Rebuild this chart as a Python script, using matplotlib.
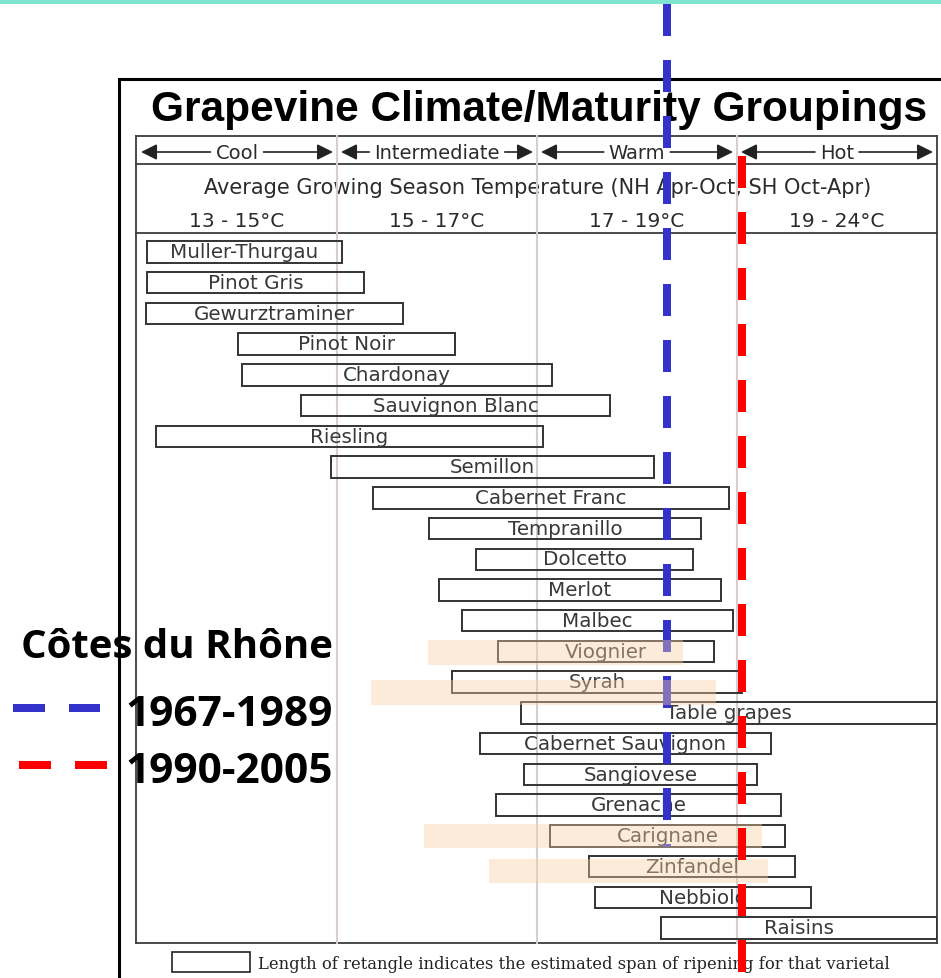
import numpy as np
import matplotlib
matplotlib.use("Agg")
import matplotlib.pyplot as plt
from matplotlib import transforms
from matplotlib.patches import Rectangle

# ---- data -------------------------------------------------------------
varieties = ["Muller-Thurgau", "Pinot Gris", "Gewurztraminer", "Pinot Noir",
             "Chardonay", "Sauvignon Blanc", "Riesling", "Semillon",
             "Cabernet Franc", "Tempranillo", "Dolcetto", "Merlot", "Malbec",
             "Viognier", "Syrah", "Table grapes", "Cabernet Sauvignon",
             "Sangiovese", "Grenache", "Carignane", "Zinfandel", "Nebbiolo",
             "Raisins"]
# ripening span, average growing season temperature (deg C)
span_low = [13.10, 13.10, 13.09, 14.01, 14.05, 14.64, 13.19, 14.94, 15.36,
            15.92, 16.39, 16.02, 16.25, 16.61, 16.15, 16.84, 16.43, 16.87,
            16.59, 17.13, 17.52, 17.58, 18.24]
span_high = [15.05, 15.27, 15.66, 16.18, 17.15, 17.73, 17.06, 18.17, 18.92,
             18.64, 18.56, 18.84, 18.96, 18.77, 19.13, 24.00, 19.85, 19.50,
             20.10, 20.20, 20.45, 20.85, 24.00]

zone_names = ["Cool", "Intermediate", "Warm", "Hot"]
zone_edges = [13, 15, 17, 19, 24]
zone_ranges = ["13 - 15°C", "15 - 17°C", "17 - 19°C", "19 - 24°C"]

# Rhône varieties shaded in the chart
highlight_names = ["Viognier", "Syrah", "Carignane", "Zinfandel"]
highlight_low = [15.91, 15.34, 15.87, 16.52]
highlight_high = [18.46, 18.79, 19.63, 19.78]

# Côtes du Rhône growing season averages
period_labels = ["1967-1989", "1990-2005"]
period_temps = [18.3, 19.12]
period_colors = ["#3333CC", "#FF0000"]

# ---- scale: each climate zone gets equal width -------------------------
_pos = np.arange(len(zone_edges), dtype=float)


def fwd(t):
    return np.interp(t, zone_edges, _pos)


def inv(p):
    return np.interp(p, _pos, zone_edges)


W, H = 941, 979
fig = plt.figure(figsize=(W / 100, H / 100), dpi=100)

base = fig.add_axes([0, 0, 1, 1], zorder=0)
base.set_xlim(0, W)
base.set_ylim(H, 0)
base.axis("off")

n = len(varieties)
ax = fig.add_axes([137 / W, (H - 944.4) / H, 800 / W, (944.4 - 237.6) / H],
                  zorder=1)
ax.patch.set_visible(False)
ax.set_xscale("function", functions=(fwd, inv))
ax.set_xlim(zone_edges[0], zone_edges[-1])
ax.set_ylim(n - 0.5, -0.5)
ax.axis("off")

# x in temperature, y in figure pixels
xd_ypx = transforms.blended_transform_factory(ax.transData, base.transData)

# ---- frames ------------------------------------------------------------
base.add_patch(Rectangle((0, 0), W, 5, color="#80E5D0", lw=0))
base.plot([119, 119, W], [H, 80, 80], color="black", lw=2.2,
          solid_joinstyle="miter")

tbl_col = "#3c3c3c"
for yy in (137, 165, 234, 944):
    base.plot([136, 937], [yy, yy], color=tbl_col, lw=1.3)
for xx in (136, 937):
    base.plot([xx, xx], [137, 944], color=tbl_col, lw=1.3)

for e in zone_edges[1:-1]:
    ax.plot([e, e], [137, 944], transform=xd_ypx, color="#D8CCD0", lw=1.5,
            clip_on=False, zorder=0.5)

# ---- title & header ----------------------------------------------------
base.text(539.5, 121, "Grapevine Climate/Maturity Groupings", ha="center",
          va="baseline", family="Liberation Sans", fontweight="bold",
          fontsize=30.5, color="black")

txt_col = "#2b2b2b"
renderer = fig.canvas.get_renderer()
for i, name in enumerate(zone_names):
    a, b = zone_edges[i], zone_edges[i + 1]
    ctr = inv((fwd(a) + fwd(b)) / 2)
    t = base.text(ctr, 159, name, transform=xd_ypx, ha="center",
                  va="baseline", family="DejaVu Sans", fontsize=14,
                  color=txt_col)
    bb = t.get_window_extent(renderer=renderer)
    xa = ax.transData.transform((a, 0))[0]
    xb = ax.transData.transform((b, 0))[0]
    for start, tip in ((bb.x0 - 5, xa + 4), (bb.x1 + 5, xb - 4)):
        base.annotate("", xy=(tip, 153), xytext=(start, 153),
                      arrowprops=dict(arrowstyle="-|>,head_length=0.8,head_width=0.4",
                                      color="#222222", lw=1.2,
                                      mutation_scale=12, shrinkA=0,
                                      shrinkB=0))
    base.text(ctr, 227, zone_ranges[i], transform=xd_ypx, ha="center",
              va="baseline", family="DejaVu Sans", fontsize=14.5,
              color=txt_col)

base.text(537.5, 194,
          "Average Growing Season Temperature (NH Apr-Oct, SH Oct-Apr)",
          ha="center", va="baseline", family="DejaVu Sans", fontsize=15,
          color=txt_col)

# ---- ripening spans ----------------------------------------------------
rows = np.arange(n)
widths = np.array(span_high) - np.array(span_low)
ax.barh(rows, widths, left=span_low, height=0.7, fill=False,
        edgecolor="#333333", lw=1.4, zorder=2)
for i, name in enumerate(varieties):
    ctr = inv((fwd(span_low[i]) + fwd(span_high[i])) / 2)
    ax.text(ctr, i + 0.17, name, ha="center", va="baseline",
            family="DejaVu Sans", fontsize=14.3, color="#383838", zorder=3)

# Côtes du Rhône averages
line_extent = [(5, 848), (157, 979)]
ax.plot([period_temps[0]] * 2, line_extent[0], transform=xd_ypx,
        color=period_colors[0], lw=5.76, dashes=(4, 3), dash_capstyle="butt",
        clip_on=False, zorder=3.5)

hl_rows = np.array([varieties.index(v) for v in highlight_names], float)
hl_shift = np.array([0.03, 0.33, 0.0, 0.15])
ax.barh(hl_rows + hl_shift, np.array(highlight_high) - np.array(highlight_low),
        left=highlight_low, height=0.8, color="#FACFA2", alpha=0.4, lw=0,
        zorder=4)

ax.plot([period_temps[1]] * 2, line_extent[1], transform=xd_ypx,
        color=period_colors[1], lw=5.76, dashes=(4, 3), dash_capstyle="butt",
        clip_on=False, zorder=5)

# ---- key on the left ---------------------------------------------------
base.text(333, 658, "Côtes du Rhône", ha="right", va="baseline",
          family="Open Sans", fontweight="bold", fontsize=29, color="black")
for (x0, x1), yy, lab, col in zip([(13, 100), (19, 107)], [709, 766],
                                  period_labels, period_colors):
    base.plot([x0, x1], [yy, yy], color=col, lw=5.76, dashes=(4, 3),
              dash_capstyle="butt")
    base.text(333, yy + 17, lab, ha="right", va="baseline",
              family="Open Sans", fontweight="bold", fontsize=30.5,
              color="black")

# ---- footnote ----------------------------------------------------------
base.add_patch(Rectangle((172, 953), 78, 20, fill=False, edgecolor="#222222",
                         lw=1.2))
base.text(258, 969,
          "Length of retangle indicates the estimated span of ripening for that varietal",
          ha="left", va="baseline", family="DejaVu Serif", fontsize=11.8,
          color="#222222")

fig.savefig("out.png", dpi=100)
